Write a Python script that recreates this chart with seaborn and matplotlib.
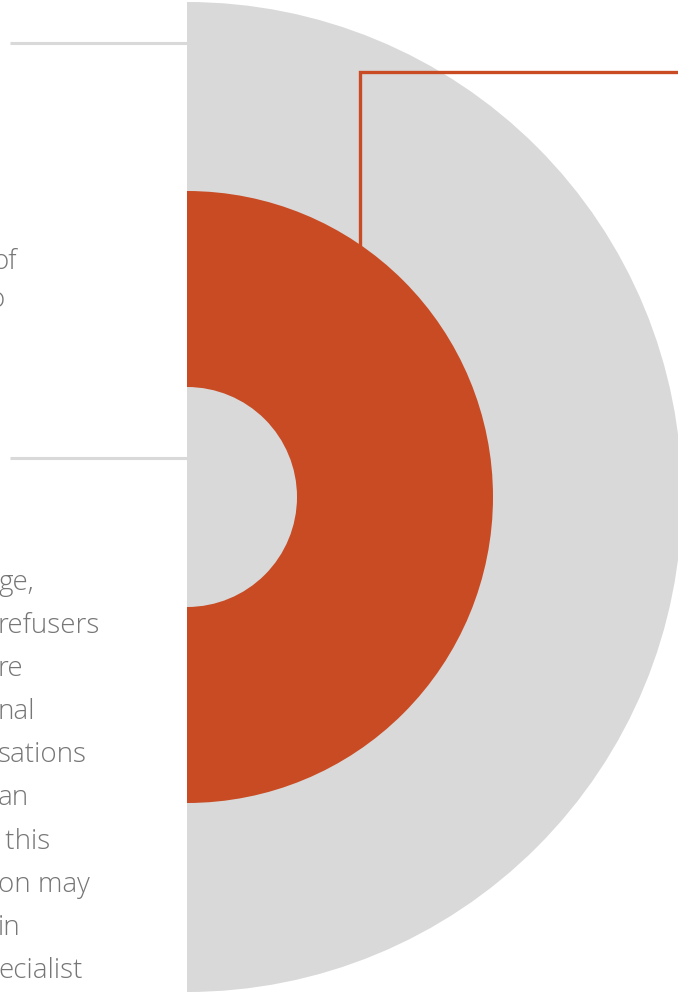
import seaborn as sns
import matplotlib.pyplot as plt

sns.set_theme(style="white")
plt.rcParams['font.family'] = ['Open Sans', 'DejaVu Sans']

# Half-circle shares (right half shown, left half hidden)
outer_share = [50, 50]
inner_share = [50, 50]
gray = "#d9d9d9"
orange = "#c84b24"
text_col = "#767676"

# Visible text fragments (cut by the left edge of the chart)
upper_lines = ["of", "o"]
lower_lines = ["ge,", "refusers", "re", "nal", "sations", "an", " this",
               "on may", "in", "ecialist"]

W, H = 678, 995
fig = plt.figure(figsize=(W / 100, H / 100), dpi=100)
ax = fig.add_axes([0, 0, 1, 1])

cx, cy = 187, H - 498

ax.pie(outer_share, colors=[gray, "none"], startangle=90, counterclock=False,
       radius=495, center=(cx, cy), wedgeprops=dict(linewidth=0),
       frame=True)
ax.pie(inner_share, colors=[orange, "none"], startangle=90, counterclock=False,
       radius=306, center=(cx, cy),
       wedgeprops=dict(width=196, linewidth=0), frame=True)

# leader lines
ax.plot([10, cx], [H - 44, H - 44], color=gray, lw=2.2, solid_capstyle="butt")
ax.plot([10, cx], [H - 459, H - 459], color=gray, lw=2.2, solid_capstyle="butt")
ax.plot([360, 360, 678], [H - 248, H - 73, H - 73], color=orange, lw=2.4,
        solid_joinstyle="miter", solid_capstyle="butt")

# left text
ax.text(-8, H - 262, upper_lines[0], fontsize=20, color=text_col,
        fontweight="light", va="center", ha="left")
ax.text(-12, H - 300, upper_lines[1], fontsize=20, color=text_col,
        fontweight="light", va="center", ha="left")
y0 = 583
for i, line in enumerate(lower_lines):
    ax.text(-2, H - (y0 + i * 43.1), line, fontsize=20, color=text_col,
            fontweight="light", va="center", ha="left")

ax.set_xlim(0, W)
ax.set_ylim(0, H)
ax.set_aspect("auto")
ax.axis("off")

fig.savefig("out.png", dpi=100)
